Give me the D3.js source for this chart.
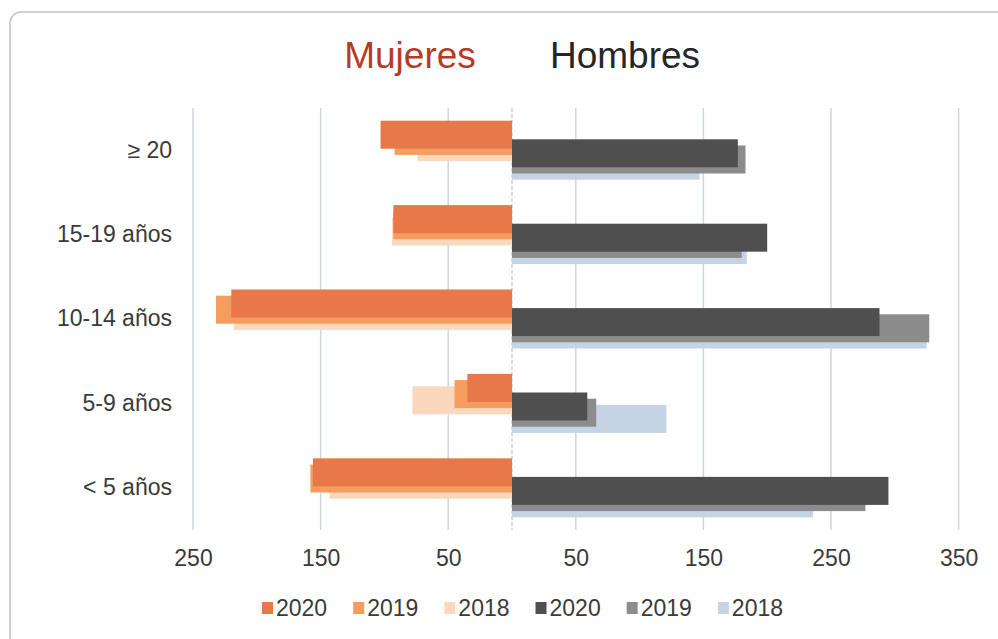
<!DOCTYPE html>
<html>
<head>
<meta charset="utf-8">
<script src="https://cdn.jsdelivr.net/npm/d3@7"></script>
<style>
  html, body { margin: 0; padding: 0; background: #fff; }
  text { font-family: "Liberation Sans", Arial, sans-serif; }
</style>
</head>
<body>
<div id="chart"></div>
<script>
// age groups, top to bottom
var categories = ["≥ 20", "15-19 años", "10-14 años", "5-9 años", "< 5 años"];

// women (drawn to the left)
var mujeres2020 = [103, 93, 220, 35, 156];
var mujeres2019 = [92, 93, 232, 45, 158];
var mujeres2018 = [74, 94, 218, 78, 143];

// men (drawn to the right)
var hombres2020 = [177, 200, 288, 59, 295];
var hombres2019 = [183, 180, 327, 66, 277];
var hombres2018 = [147, 184, 325, 121, 236];

var tickValues = [-250, -150, -50, 50, 150, 250, 350];

var series = [
  { key: "m2020", label: "2020", values: mujeres2020, sign: -1, color: "#e8784a", year: 2020 },
  { key: "m2019", label: "2019", values: mujeres2019, sign: -1, color: "#f59d5e", year: 2019 },
  { key: "m2018", label: "2018", values: mujeres2018, sign: -1, color: "#fbd8bd", year: 2018 },
  { key: "h2020", label: "2020", values: hombres2020, sign: 1, color: "#4f4f4f", year: 2020 },
  { key: "h2019", label: "2019", values: hombres2019, sign: 1, color: "#8c8c8c", year: 2019 },
  { key: "h2018", label: "2018", values: hombres2018, sign: 1, color: "#c6d3e4", year: 2018 }
];

var width = 998,
    height = 639,
    fontSize = "23px";

var svg = d3.select("#chart").append("svg")
    .attr("width", width)
    .attr("height", height);

// chart frame
svg.append("rect")
    .attr("x", 10).attr("y", 12)
    .attr("width", 1000).attr("height", 640)
    .attr("rx", 11)
    .attr("fill", "#fff")
    .attr("stroke", "#c4c4c4")
    .attr("stroke-width", 1.5);

var x = d3.scaleLinear()
    .domain([-250, 350])
    .range([193, 958.6]);

var y = d3.scaleBand()
    .domain(categories)
    .range([108, 530]);

// position of each series inside a band (overlapping bars)
var inner = d3.scalePoint()
    .domain(series.map(function(s) { return s.key; }))
    .range([-15.5, 15.5]);

var barH = 28;

// gridlines
svg.append("g")
    .selectAll("line")
    .data(tickValues)
  .enter().append("line")
    .attr("x1", function(d) { return x(d); })
    .attr("x2", function(d) { return x(d); })
    .attr("y1", 108)
    .attr("y2", 530)
    .attr("stroke", "#cfd6e0")
    .attr("stroke-width", 1.5);

svg.append("line")
    .attr("x1", x(0)).attr("x2", x(0))
    .attr("y1", 108).attr("y2", 530)
    .attr("stroke", "#b9c6d8")
    .attr("stroke-width", 1.2)
    .attr("stroke-dasharray", "4,2");

// bars: older years first so 2020 sits on top
var drawOrder = series.slice().sort(function(a, b) { return a.year - b.year; });

drawOrder.forEach(function(s) {
  svg.append("g")
      .attr("class", "series " + s.key)
    .selectAll("rect")
      .data(s.values)
    .enter().append("rect")
      .attr("x", function(d) { return Math.min(x(0), x(s.sign * d)); })
      .attr("width", function(d) { return Math.abs(x(s.sign * d) - x(0)); })
      .attr("y", function(d, i) { return y(categories[i]) + y.bandwidth() / 2 + inner(s.key) - barH / 2; })
      .attr("height", barH)
      .attr("fill", s.color);
});

// x axis labels (absolute values)
var xAxis = d3.axisBottom(x)
    .tickValues(tickValues)
    .tickFormat(function(d) { return Math.abs(d); })
    .tickSize(0)
    .tickPadding(0);

var gx = svg.append("g")
    .attr("transform", "translate(0,550)")
    .call(xAxis);
gx.select(".domain").remove();
gx.selectAll("text")
    .attr("dy", "0.71em")
    .style("font-size", fontSize)
    .style("font-family", "'Liberation Sans', Arial, sans-serif")
    .attr("fill", "#3a3a3a");

// y axis labels
var yAxis = d3.axisLeft(y)
    .tickSize(0)
    .tickPadding(0);

var gy = svg.append("g")
    .attr("transform", "translate(172,0)")
    .call(yAxis);
gy.select(".domain").remove();
gy.selectAll("text")
    .style("font-size", fontSize)
    .style("font-family", "'Liberation Sans', Arial, sans-serif")
    .attr("fill", "#3a3a3a");

// titles
svg.append("text")
    .attr("x", 410).attr("y", 68)
    .attr("text-anchor", "middle")
    .style("font-size", "37px")
    .attr("fill", "#b73a24")
    .text("Mujeres");

svg.append("text")
    .attr("x", 625).attr("y", 68)
    .attr("text-anchor", "middle")
    .style("font-size", "37px")
    .attr("fill", "#262626")
    .text("Hombres");

// legend
var legend = svg.append("g")
    .attr("transform", "translate(262,608)");

var lx = 0;
series.forEach(function(s) {
  var item = legend.append("g").attr("transform", "translate(" + lx + ",0)");
  item.append("rect")
      .attr("x", 0).attr("y", -6)
      .attr("width", 11).attr("height", 12)
      .attr("fill", s.color);
  var t = item.append("text")
      .attr("x", 14)
      .attr("dy", "0.35em")
      .style("font-size", fontSize)
      .attr("fill", "#3a3a3a")
      .text(s.label);
  lx += 14 + t.node().getComputedTextLength() + 26;
});
</script>
</body>
</html>
